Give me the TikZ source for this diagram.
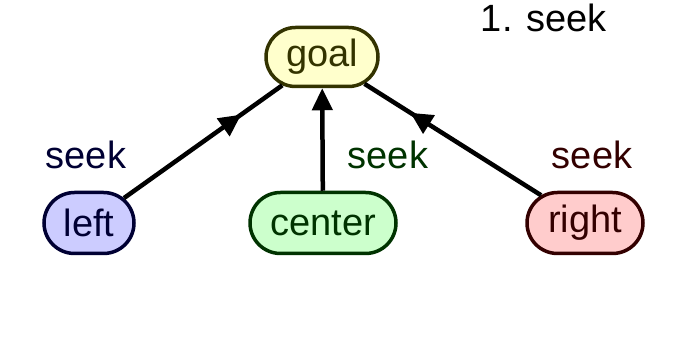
\documentclass[tikz,border=0pt]{standalone}
\usepackage{fontspec}
\setmainfont{Liberation Sans}
\usetikzlibrary{arrows.meta,decorations.markings,shapes.misc}
\definecolor{gfill}{HTML}{FFFFCC}
\definecolor{gdraw}{HTML}{333300}
\definecolor{lfill}{HTML}{CCCCFF}
\definecolor{ldraw}{HTML}{000033}
\definecolor{cfill}{HTML}{CCFFCC}
\definecolor{cdraw}{HTML}{003300}
\definecolor{rfill}{HTML}{FFCCCC}
\definecolor{rdraw}{HTML}{330000}
\begin{document}
\begin{tikzpicture}[x=1pt,y=-1pt,
  box/.style={rounded rectangle, draw, line width=3.5pt, inner sep=0pt, minimum height=61pt, font=\fontsize{38}{44}\selectfont},
  lbl/.style={font=\fontsize{38}{44}\selectfont, anchor=base, inner sep=0pt},
  edge/.style={line width=4.5pt},
  midarrow/.style={postaction={decorate}, decoration={markings, mark=at position 0.74 with {\arrow{Triangle[length=22pt,width=21pt]}}}}]
\useasboundingbox (0,0) rectangle (688,344);
\node[box, fill=gfill, draw=gdraw, text=gdraw, minimum width=112pt, minimum height=59pt] (goal) at (322,57) {goal};
\node[box, fill=lfill, draw=ldraw, text=ldraw, minimum width=90pt] (left) at (89,223) {left};
\node[box, fill=cfill, draw=cdraw, text=cdraw, minimum width=146pt] (center) at (323,223) {center};
\node[box, fill=rfill, draw=rdraw, text=rdraw, minimum width=116pt] (right) at (585,223) {right};
\draw[edge, midarrow] (left) -- (goal);
\draw[edge, midarrow] (right) -- (goal);
\draw[edge, -{Triangle[length=22pt,width=20pt]}] (center) -- (goal);
\node[lbl, text=ldraw] (sl) at (86,169) {seek};
\node[lbl, text=cdraw] (sc) at (388,169) {seek};
\node[lbl, text=rdraw] (sr) at (592,169) {seek};
\node[lbl] (title) at (544,32) {1. seek};
\end{tikzpicture}
\end{document}
